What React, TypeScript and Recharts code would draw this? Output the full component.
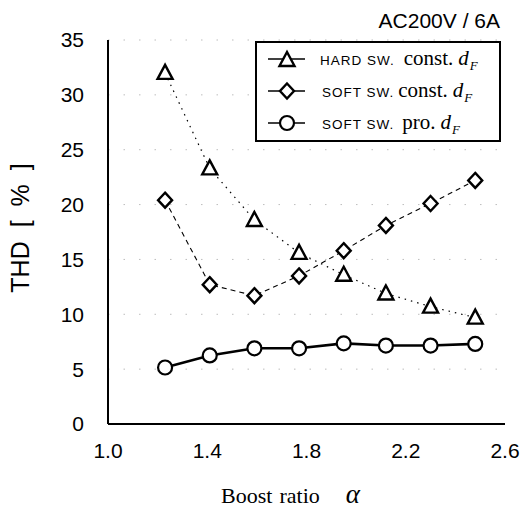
import React from 'react';
import { LineChart, Line, XAxis, YAxis, CartesianGrid, Legend, Customized } from 'recharts';

const boostRatio = [1.23, 1.41, 1.59, 1.77, 1.95, 2.12, 2.3, 2.48];
const hardConst = [32.0, 23.3, 18.6, 15.6, 13.6, 11.9, 10.7, 9.7];
const softConst = [20.4, 12.7, 11.7, 13.5, 15.8, 18.1, 20.1, 22.2];
const softPro = [5.15, 6.25, 6.9, 6.9, 7.35, 7.15, 7.15, 7.3];
const xTicks = [1.0, 1.4, 1.8, 2.2, 2.6];
const yTicks = [0, 5, 10, 15, 20, 25, 30, 35];
const titleText = 'AC200V / 6A';

const data = boostRatio.map((a, i) => ({
  alpha: a,
  hard: hardConst[i],
  softC: softConst[i],
  softP: softPro[i],
}));

const SANS = "'Liberation Sans', Arial, sans-serif";
const SERIF = "'Liberation Serif', 'Times New Roman', serif";

const TriangleDot = (props: any) => {
  const { cx, cy } = props;
  if (cx == null || cy == null) return null;
  const pts = `${cx},${cy - 8} ${cx - 7.5},${cy + 6} ${cx + 7.5},${cy + 6}`;
  return <polygon points={pts} fill="#fff" stroke="#000" strokeWidth={2.4} strokeLinejoin="miter" />;
};
const DiamondDot = (props: any) => {
  const { cx, cy } = props;
  if (cx == null || cy == null) return null;
  const pts = `${cx},${cy - 7.5} ${cx + 7},${cy} ${cx},${cy + 7.5} ${cx - 7},${cy}`;
  return <polygon points={pts} fill="#fff" stroke="#000" strokeWidth={2.4} />;
};
const CircleDot = (props: any) => {
  const { cx, cy } = props;
  if (cx == null || cy == null) return null;
  return <circle cx={cx} cy={cy} r={7} fill="#fff" stroke="#000" strokeWidth={2.2} />;
};

const LegendSymbol = ({ kind }: { kind: string }) => (
  <svg width={63} height={32} style={{ display: 'block', flex: 'none' }}>
    <line x1={11} y1={16} x2={48} y2={16} stroke="#000" strokeWidth={1.6} />
    {kind === 'tri' && <TriangleDot cx={30} cy={17} />}
    {kind === 'dia' && <DiamondDot cx={30} cy={16} />}
    {kind === 'cir' && <CircleDot cx={30} cy={16} />}
  </svg>
);

const DF = () => (
  <span style={{ fontFamily: SERIF, fontStyle: 'italic', fontSize: 21 }}>
    d
    <span style={{ fontSize: 13, position: 'relative', top: 5, marginLeft: 1 }}>F</span>
  </span>
);

const legendRows = [
  { kind: 'tri', lead: 'HARD SW.', word: 'const.', gap: 9 },
  { kind: 'dia', lead: 'SOFT SW.', word: 'const.', gap: 4 },
  { kind: 'cir', lead: 'SOFT SW.', word: 'pro.', gap: 8 },
];

const LegendBox = () => (
  <div
    style={{
      width: 246,
      height: 101,
      boxSizing: 'border-box',
      border: '2px solid #000',
      background: '#fff',
    }}
  >
    {legendRows.map((r, i) => (
      <div key={i} style={{ display: 'flex', alignItems: 'center', height: 32, whiteSpace: 'nowrap' }}>
        <LegendSymbol kind={r.kind} />
        <div style={{ display: 'flex', alignItems: 'baseline', lineHeight: 1, marginTop: -2 }}>
          <span style={{ fontFamily: SANS, fontSize: 13.5, letterSpacing: 1, marginLeft: i === 0 ? 0 : 2 }}>
            {r.lead}
          </span>
          <span style={{ fontFamily: SERIF, fontSize: 21, marginLeft: r.gap }}>{r.word}</span>
          <span style={{ marginLeft: 5 }}>
            <DF />
          </span>
        </div>
      </div>
    ))}
  </div>
);

const Title = () => (
  <text x={500} y={28} textAnchor="end" fontFamily={SANS} fontSize={21} fill="#000">
    {titleText}
  </text>
);

const YLabel = (props: any) => {
  const vb = props.viewBox || { x: 0, y: 40, width: 108, height: 384 };
  const cx = 20;
  const cy = vb.y + vb.height / 2 - 4;
  return (
    <text
      x={cx}
      y={cy}
      transform={`rotate(-90 ${cx} ${cy})`}
      textAnchor="middle"
      dominantBaseline="central"
      fontFamily={SANS}
      fontSize={25}
      wordSpacing={7}
      fill="#000"
    >
      THD [ % ]
    </text>
  );
};

const XLabel = (props: any) => {
  const vb = props.viewBox || { x: 108, y: 424, width: 397, height: 86 };
  const cx = vb.x + vb.width / 2 - 16;
  return (
    <text x={cx} y={503} textAnchor="middle" fontFamily={SERIF} fontSize={22} fill="#000">
      <tspan>Boost</tspan>
      <tspan dx={7}>ratio</tspan>
      <tspan dx={26} fontStyle="italic" fontSize={27}>α</tspan>
    </text>
  );
};

export default function App() {
  return (
    <div style={{ position: 'fixed', left: 0, top: 0, width: 523, height: 510, background: '#fff' }}>
      <LineChart width={523} height={510} data={data} margin={{ top: 40, right: 18, bottom: 0, left: 0 }}>
        <CartesianGrid vertical={false} stroke="#bdbdbd" strokeDasharray="1.5 14" />
        <XAxis
          dataKey="alpha"
          type="number"
          domain={[1.0, 2.6]}
          ticks={xTicks}
          tickFormatter={(v: number) => v.toFixed(1)}
          allowDataOverflow
          height={86}
          axisLine={{ stroke: '#000', strokeWidth: 2 }}
          tickLine={false}
          tickSize={0}
          tickMargin={19}
          tick={{ fill: '#000', fontFamily: SANS, fontSize: 21 }}
          label={{ content: XLabel }}
        />
        <XAxis
          xAxisId="top"
          orientation="top"
          type="number"
          domain={[1.0, 2.6]}
          height={0}
          tick={false}
          tickLine={false}
          axisLine={{ stroke: '#000', strokeWidth: 2 }}
        />
        <YAxis
          type="number"
          domain={[0, 35]}
          ticks={yTicks}
          width={108}
          axisLine={{ stroke: '#000', strokeWidth: 2 }}
          tickLine={false}
          tickSize={0}
          tickMargin={24}
          interval={0}
          tick={{ fill: '#000', fontFamily: SANS, fontSize: 21 }}
          label={{ content: YLabel }}
        />
        <YAxis
          yAxisId="right"
          orientation="right"
          type="number"
          domain={[0, 35]}
          width={0}
          tick={false}
          tickLine={false}
          axisLine={{ stroke: '#000', strokeWidth: 2 }}
        />
        <Legend
          layout="vertical"
          align="center"
          verticalAlign="middle"
          wrapperStyle={{ left: 255, top: 41, width: 246, height: 101, margin: 0 }}
          content={() => <LegendBox />}
        />
        <Line
          dataKey="hard"
          type="linear"
          stroke="#000"
          strokeWidth={1.2}
          strokeDasharray="1.5 5"
          dot={(p: any) => <TriangleDot key={`t${p.index}`} cx={p.cx} cy={p.cy} />}
          isAnimationActive={false}
        />
        <Line
          dataKey="softC"
          type="linear"
          stroke="#000"
          strokeWidth={1.1}
          strokeDasharray="5 4"
          dot={(p: any) => <DiamondDot key={`d${p.index}`} cx={p.cx} cy={p.cy} />}
          isAnimationActive={false}
        />
        <Line
          dataKey="softP"
          type="linear"
          stroke="#000"
          strokeWidth={2.6}
          dot={(p: any) => <CircleDot key={`c${p.index}`} cx={p.cx} cy={p.cy} />}
          isAnimationActive={false}
        />
        <Customized component={Title} />
      </LineChart>
    </div>
  );
}
